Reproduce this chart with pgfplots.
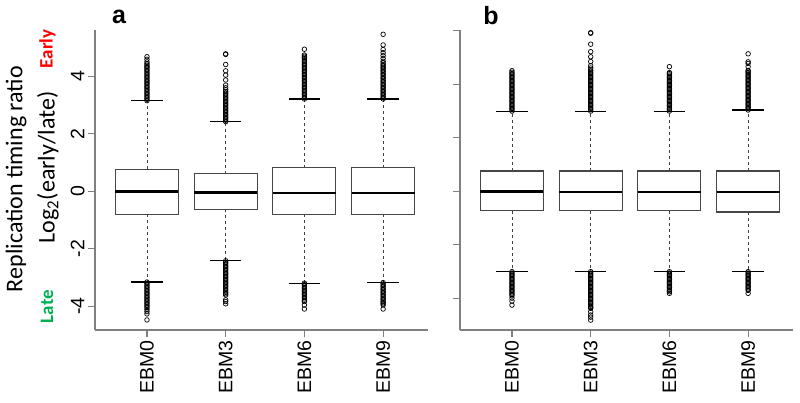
\documentclass[border=0pt]{standalone}
\usepackage{fontspec}
\setmainfont{Liberation Sans}
\newfontfamily\calfont{Carlito}
\usepackage{pgfplots}
\pgfplotsset{compat=1.18}
\usepgfplotslibrary{statistics}
\definecolor{axgray}{RGB}{128,128,128}
\definecolor{boxgray}{RGB}{70,70,70}
\definecolor{earlyred}{RGB}{255,0,0}
\definecolor{lategreen}{RGB}{0,176,80}
\tikzset{whisk/.style={draw=black!75, line width=0.75pt, dash pattern=on 3pt off 3pt},
         capst/.style={draw=black, line width=1.1pt, solid}}
\pgfplotsset{
  boxplot/draw/lower whisker/.code={%
    \draw[whisk] (boxplot box cs:\pgfplotsboxplotvalue{lower quartile},0.5) -- (boxplot box cs:\pgfplotsboxplotvalue{lower whisker},0.5);
    \draw[capst] (boxplot whisker cs:\pgfplotsboxplotvalue{lower whisker},0) -- (boxplot whisker cs:\pgfplotsboxplotvalue{lower whisker},1);
  },
  boxplot/draw/upper whisker/.code={%
    \draw[whisk] (boxplot box cs:\pgfplotsboxplotvalue{upper quartile},0.5) -- (boxplot box cs:\pgfplotsboxplotvalue{upper whisker},0.5);
    \draw[capst] (boxplot whisker cs:\pgfplotsboxplotvalue{upper whisker},0) -- (boxplot whisker cs:\pgfplotsboxplotvalue{upper whisker},1);
  },
  rbox/.style={
    scale only axis, width=333pt, height=300pt,
    xmin=0.34, xmax=4.57,
    axis x line*=bottom, axis y line*=left,
    axis line style={-, draw=axgray, line width=1.2pt},
    every tick/.style={draw=axgray, line width=1.2pt},
    tick align=outside, major tick length=7pt,
    xtick={1,2,3,4}, xticklabels={EBM0,EBM3,EBM6,EBM9},
    xticklabel style={rotate=90, anchor=east, font=\fontsize{19.5}{23}\selectfont},
    yticklabel style={rotate=90, anchor=south, font=\fontsize{19.5}{23}\selectfont},
    boxplot/draw direction=y,
    boxplot/box extend=0.8, boxplot/whisker extend=0.4,
    boxplot/every box/.style={draw=boxgray, line width=1.1pt},
    boxplot/every median/.style={draw=black, line width=2.6pt},
    clip=false,
  },
  bp/.style={black, mark=o, mark size=2.3pt, mark options={line width=0.7pt, solid}},
}
\begin{document}
\begin{tikzpicture}[x=1pt,y=1pt]
\useasboundingbox (0,0) rectangle (800,403);
% ---------------- panel a ----------------
\begin{axis}[rbox, at={(95pt,73pt)}, anchor=south west,
  ymin=-4.83, ymax=5.61, ytick={-4,-2,0,2,4}, yticklabels={-4,-2,0,2,4}]
\addplot[bp, boxplot prepared={draw position=1, lower whisker=-3.16, lower quartile=-0.80, median=0.0, upper quartile=0.77, upper whisker=3.15}]
 table[row sep=\\, y index=0] {v\\ 3.15\\3.20\\3.25\\3.30\\3.35\\3.40\\3.45\\3.50\\3.55\\3.60\\3.65\\3.70\\3.75\\3.80\\3.85\\3.90\\3.95\\4.00\\4.05\\4.10\\4.15\\4.20\\4.25\\4.30\\4.34\\4.39\\4.44\\4.50\\4.59\\4.68\\
 -3.16\\-3.21\\-3.26\\-3.31\\-3.36\\-3.41\\-3.46\\-3.51\\-3.56\\-3.61\\-3.66\\-3.71\\-3.76\\-3.81\\-3.86\\-3.91\\-3.96\\-4.01\\-4.06\\-4.12\\-4.19\\-4.27\\-4.48\\};
\addplot[bp, boxplot prepared={draw position=2, lower whisker=-2.42, lower quartile=-0.63, median=-0.05, upper quartile=0.61, upper whisker=2.42}]
 table[row sep=\\, y index=0] {v\\ 2.42\\2.47\\2.52\\2.57\\2.62\\2.67\\2.72\\2.77\\2.82\\2.87\\2.92\\2.97\\3.02\\3.07\\3.12\\3.17\\3.22\\3.27\\3.32\\3.37\\3.42\\3.47\\3.53\\3.60\\3.69\\3.87\\4.04\\4.19\\4.41\\4.76\\4.78\\
 -2.42\\-2.47\\-2.52\\-2.57\\-2.62\\-2.67\\-2.72\\-2.77\\-2.82\\-2.87\\-2.92\\-2.97\\-3.02\\-3.07\\-3.12\\-3.17\\-3.22\\-3.27\\-3.32\\-3.37\\-3.42\\-3.47\\-3.52\\-3.57\\-3.61\\-3.78\\-3.84\\-3.92\\};
\addplot[bp, boxplot prepared={draw position=3, lower whisker=-3.20, lower quartile=-0.80, median=-0.06, upper quartile=0.81, upper whisker=3.21}]
 table[row sep=\\, y index=0] {v\\ 3.21\\3.26\\3.31\\3.36\\3.41\\3.46\\3.51\\3.56\\3.61\\3.66\\3.71\\3.76\\3.81\\3.86\\3.91\\3.96\\4.01\\4.06\\4.11\\4.16\\4.21\\4.26\\4.31\\4.36\\4.41\\4.46\\4.51\\4.56\\4.61\\4.66\\4.70\\4.74\\4.94\\
 -3.20\\-3.25\\-3.30\\-3.35\\-3.40\\-3.45\\-3.50\\-3.55\\-3.60\\-3.65\\-3.70\\-3.75\\-3.80\\-3.84\\-3.96\\-4.10\\};
\addplot[bp, boxplot prepared={draw position=4, lower whisker=-3.18, lower quartile=-0.80, median=-0.06, upper quartile=0.81, upper whisker=3.21}]
 table[row sep=\\, y index=0] {v\\ 3.21\\3.26\\3.31\\3.36\\3.41\\3.46\\3.51\\3.56\\3.61\\3.66\\3.71\\3.76\\3.81\\3.86\\3.91\\3.96\\4.01\\4.06\\4.11\\4.16\\4.21\\4.26\\4.31\\4.36\\4.40\\4.46\\4.52\\4.62\\4.72\\4.82\\4.93\\5.09\\5.46\\
 -3.18\\-3.23\\-3.28\\-3.33\\-3.38\\-3.43\\-3.48\\-3.53\\-3.58\\-3.63\\-3.68\\-3.73\\-3.78\\-3.83\\-3.88\\-3.92\\-3.96\\-4.10\\};
\end{axis}
% ---------------- panel b ----------------
\begin{axis}[rbox, at={(460pt,73pt)}, anchor=south west,
  ymin=-5.18, ymax=6.03, ytick={-4,-2,0,2,4,6}, yticklabels={}]
\addplot[bp, boxplot prepared={draw position=1, lower whisker=-3.00, lower quartile=-0.73, median=0.0, upper quartile=0.76, upper whisker=3.00}]
 table[row sep=\\, y index=0] {v\\ 3.00\\3.05\\3.10\\3.15\\3.20\\3.25\\3.30\\3.35\\3.40\\3.45\\3.50\\3.55\\3.60\\3.65\\3.70\\3.75\\3.80\\3.85\\3.90\\3.95\\4.00\\4.05\\4.10\\4.15\\4.20\\4.25\\4.30\\4.35\\4.40\\4.45\\4.51\\
 -3.00\\-3.05\\-3.10\\-3.15\\-3.20\\-3.25\\-3.30\\-3.35\\-3.40\\-3.45\\-3.50\\-3.55\\-3.60\\-3.65\\-3.70\\-3.75\\-3.80\\-3.85\\-3.90\\-3.99\\-4.10\\-4.25\\};
\addplot[bp, boxplot prepared={draw position=2, lower whisker=-3.00, lower quartile=-0.73, median=-0.03, upper quartile=0.76, upper whisker=3.00}]
 table[row sep=\\, y index=0] {v\\ 3.00\\3.05\\3.10\\3.15\\3.20\\3.25\\3.30\\3.35\\3.40\\3.45\\3.50\\3.55\\3.60\\3.65\\3.70\\3.75\\3.80\\3.85\\3.90\\3.95\\4.00\\4.05\\4.10\\4.15\\4.20\\4.25\\4.30\\4.35\\4.40\\4.45\\4.50\\4.54\\4.61\\4.69\\4.85\\5.03\\5.22\\5.50\\5.91\\5.93\\
 -3.00\\-3.05\\-3.10\\-3.15\\-3.20\\-3.25\\-3.30\\-3.35\\-3.40\\-3.45\\-3.50\\-3.55\\-3.60\\-3.65\\-3.70\\-3.75\\-3.80\\-3.85\\-3.90\\-3.95\\-4.00\\-4.05\\-4.10\\-4.15\\-4.20\\-4.25\\-4.30\\-4.34\\-4.37\\-4.50\\-4.62\\-4.70\\-4.81\\};
\addplot[bp, boxplot prepared={draw position=3, lower whisker=-3.00, lower quartile=-0.73, median=-0.03, upper quartile=0.76, upper whisker=3.00}]
 table[row sep=\\, y index=0] {v\\ 3.00\\3.05\\3.10\\3.15\\3.20\\3.25\\3.30\\3.35\\3.40\\3.45\\3.50\\3.55\\3.60\\3.65\\3.70\\3.75\\3.80\\3.85\\3.90\\3.95\\4.00\\4.05\\4.10\\4.15\\4.20\\4.25\\4.30\\4.35\\4.40\\4.44\\4.66\\
 -3.00\\-3.05\\-3.10\\-3.15\\-3.20\\-3.25\\-3.30\\-3.35\\-3.40\\-3.45\\-3.50\\-3.55\\-3.60\\-3.65\\-3.70\\-3.75\\-3.81\\};
\addplot[bp, boxplot prepared={draw position=4, lower whisker=-3.00, lower quartile=-0.77, median=-0.03, upper quartile=0.76, upper whisker=3.04}]
 table[row sep=\\, y index=0] {v\\ 3.04\\3.09\\3.14\\3.19\\3.24\\3.29\\3.34\\3.39\\3.44\\3.49\\3.54\\3.59\\3.64\\3.69\\3.74\\3.79\\3.84\\3.89\\3.94\\3.99\\4.04\\4.09\\4.14\\4.19\\4.24\\4.29\\4.34\\4.39\\4.44\\4.49\\4.52\\4.66\\4.78\\4.84\\5.14\\
 -3.00\\-3.05\\-3.10\\-3.15\\-3.20\\-3.25\\-3.30\\-3.35\\-3.40\\-3.45\\-3.50\\-3.55\\-3.60\\-3.65\\-3.70\\-3.81\\};
\end{axis}
% ---------------- labels ----------------
\node[font=\bfseries\fontsize{25}{28}\selectfont, anchor=base] at (119,379) {a};
\node[font=\bfseries\fontsize{25}{28}\selectfont, anchor=base] at (491,378) {b};
\node[rotate=90, font=\calfont\fontsize{24}{28}\selectfont] at (16,224) {Replication timing ratio};
\node[rotate=90, font=\calfont\fontsize{24}{28}\selectfont] at (48,235.5) {Log\textsubscript{2}(early/late)};
\node[rotate=90, font=\calfont\bfseries\fontsize{19}{22}\selectfont, text=earlyred] at (47.5,354) {Early};
\node[rotate=90, font=\calfont\bfseries\fontsize{19}{22}\selectfont, text=lategreen] at (47,96.5) {Late};
\end{tikzpicture}
\end{document}
